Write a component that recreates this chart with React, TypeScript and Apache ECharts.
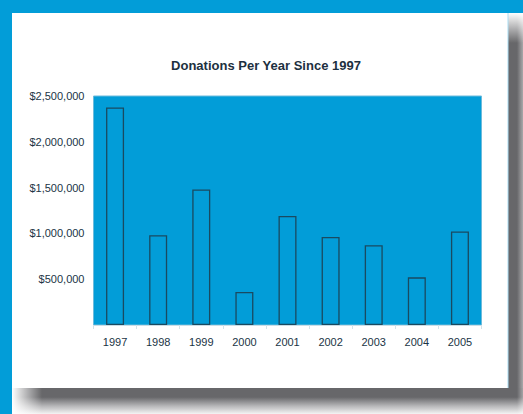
import React, { useEffect, useRef } from "react";
import * as echarts from "echarts";

const years = ["1997", "1998", "1999", "2000", "2001", "2002", "2003", "2004", "2005"];
const donations = [2375000, 980000, 1480000, 360000, 1190000, 960000, 870000, 520000, 1020000];
const yTicks = [0, 500000, 1000000, 1500000, 2000000, 2500000];

const BLUE = "#029dd8";
const TEXT = "#1a3445";
const SH = "#67676a";

export default function App() {
  const ref = useRef<HTMLDivElement>(null);
  useEffect(() => {
    if (!ref.current) return;
    const chart = echarts.init(ref.current, null, { renderer: "svg" });
    const lg = (x: number, y: number, x2: number, y2: number, stops: [number, string][]) =>
      new echarts.graphic.LinearGradient(x, y, x2, y2, stops.map(([offset, color]) => ({ offset, color })));
    chart.setOption({
      animation: false,
      backgroundColor: "#ffffff",
      graphic: [
        { type: "rect", z: -10, shape: { x: 0, y: 0, width: 523, height: 13 }, style: { fill: BLUE } },
        { type: "rect", z: -10, shape: { x: 0, y: 0, width: 12, height: 414 }, style: { fill: BLUE } },
        {
          type: "rect",
          z: -9,
          shape: { x: 12, y: 388, width: 511, height: 26 },
          style: {
            fill: lg(0, 0, 0, 1, [
              [0, SH],
              [0.35, SH],
              [0.7, "#b8b8ba"],
              [1, "#f4f4f4"],
            ]),
          },
        },
        {
          type: "rect",
          z: -8,
          shape: { x: 12, y: 388, width: 30, height: 26 },
          style: {
            fill: lg(0, 0, 1, 0, [
              [0, "rgba(255,255,255,1)"],
              [1, "rgba(255,255,255,0)"],
            ]),
          },
        },
        {
          type: "rect",
          z: -9,
          shape: { x: 508, y: 13, width: 15, height: 375 },
          style: {
            fill: lg(0, 0, 1, 0, [
              [0, SH],
              [0.6, SH],
              [1, "#a8a8aa"],
            ]),
          },
        },
        {
          type: "rect",
          z: -8,
          shape: { x: 508, y: 13, width: 15, height: 30 },
          style: {
            fill: lg(0, 0, 0, 1, [
              [0, "rgba(255,255,255,1)"],
              [1, "rgba(255,255,255,0)"],
            ]),
          },
        },
        {
          type: "rect",
          z: -8,
          shape: { x: 508, y: 388, width: 15, height: 26 },
          style: {
            fill: lg(0, 0, 1, 0, [
              [0, "rgba(255,255,255,0)"],
              [0.6, "rgba(255,255,255,0)"],
              [1, "rgba(255,255,255,0.4)"],
            ]),
          },
        },
        {
          type: "rect",
          z: -7,
          shape: { x: 12, y: 13, width: 496, height: 375 },
          style: { fill: "#ffffff" },
        },
        {
          type: "line",
          z: -6,
          shape: { x1: 508, y1: 13, x2: 508, y2: 388 },
          style: { stroke: "#a9dcf2", lineWidth: 1 },
        },
      ],
      title: {
        text: "Donations Per Year Since 1997",
        left: 261,
        textAlign: "center",
        top: 54,
        textStyle: { fontFamily: "Liberation Sans, Arial, sans-serif", fontWeight: "bold", fontSize: 13, color: "#1d3040" },
      },
      grid: {
        left: 93.5,
        right: 41.5,
        top: 96,
        bottom: 89,
        show: true,
        backgroundColor: BLUE,
        borderColor: "#6cbbdc",
        borderWidth: 1,
        z: 0,
      },
      xAxis: {
        type: "category",
        data: years,
        axisLine: { show: true, lineStyle: { color: "#c9dde6", width: 1 } },
        axisTick: { show: true, length: 4, lineStyle: { color: "#d3e3ea" } },
        axisLabel: { color: TEXT, fontSize: 11, fontFamily: "Liberation Sans, Arial, sans-serif", margin: 11 },
      },
      yAxis: {
        type: "value",
        min: yTicks[0],
        max: yTicks[yTicks.length - 1],
        interval: 500000,
        axisLine: { show: false },
        axisTick: { show: false },
        splitLine: { show: false },
        axisLabel: {
          color: TEXT,
          fontSize: 11,
          fontFamily: "Liberation Sans, Arial, sans-serif",
          margin: 9,
          formatter: (v: number) => (v === 0 ? "" : "$" + v.toLocaleString("en-US")),
        },
      },
      series: [
        {
          type: "bar",
          data: donations,
          barWidth: 18,
          itemStyle: { color: "rgba(0,0,0,0)", borderColor: "#1a4a60", borderWidth: 1.3 },
        },
      ],
    });
    return () => chart.dispose();
  }, []);
  return <div ref={ref} style={{ position: "absolute", left: 0, top: 0, width: 523, height: 414 }} />;
}
